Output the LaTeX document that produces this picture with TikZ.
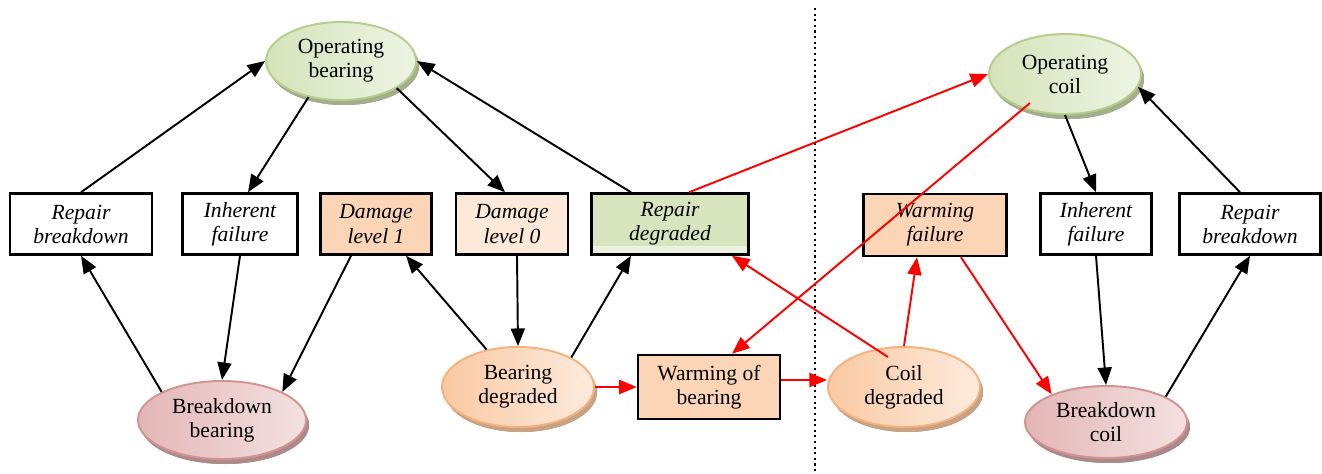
\documentclass[tikz,border=0pt]{standalone}
\usepackage{fontspec}
\setmainfont{Liberation Serif}
\usetikzlibrary{shapes.geometric,arrows.meta,shadows}
\definecolor{okfill}{HTML}{D5E3BA}
\definecolor{okfillb}{HTML}{EEF4E4}
\definecolor{okline}{HTML}{B7CD8C}
\definecolor{okshadow}{HTML}{A3AE8C}
\definecolor{dgfill}{HTML}{FAC9A2}
\definecolor{dgfillb}{HTML}{FDEBDD}
\definecolor{dgline}{HTML}{F6B27E}
\definecolor{dgshadow}{HTML}{C9A281}
\definecolor{bkfill}{HTML}{E4B6B6}
\definecolor{bkfillb}{HTML}{F4E1E1}
\definecolor{bkline}{HTML}{D39391}
\definecolor{bkshadow}{HTML}{AC8A8A}
\definecolor{orbox}{HTML}{FBD5B5}
\definecolor{pebox}{HTML}{FDE9D9}
\definecolor{grbox}{HTML}{D7E4BD}
\definecolor{grband}{HTML}{EBF1DE}
\begin{document}
\begin{tikzpicture}[font=\fontsize{12.3}{13.7}\selectfont,
        state/.style = {ellipse, align=center, inner sep=0pt, line width=1.1pt},
        ok/.style = {state, draw=okline, left color=okfill, right color=okfillb,
            drop shadow={left color=okshadow, right color=okshadow, opacity=1, shadow xshift=0.06cm, shadow yshift=-0.1cm}},
        dg/.style = {state, draw=dgline, left color=dgfill, right color=dgfillb,
            drop shadow={left color=dgshadow, right color=dgshadow, opacity=1, shadow xshift=0.06cm, shadow yshift=-0.1cm}},
        bk/.style = {state, draw=bkline, left color=bkfill, right color=bkfillb,
            drop shadow={left color=bkshadow, right color=bkshadow, opacity=1, shadow xshift=0.06cm, shadow yshift=-0.1cm}},
        box/.style = {draw, rectangle, align=center, fill=white, line width=1.4pt, minimum height=1.22cm, inner sep=0pt,
            font=\fontsize{12.3}{13.7}\selectfont\itshape},
        arr/.style = {line width=1.1pt, -{Triangle[length=10pt,width=8pt]}},
        redarr/.style = {arr, red}]
        \useasboundingbox (0,0) rectangle (26.44,9.46);
        \node[ok, minimum width=3cm, minimum height=1.56cm] (opB) at (6.82,8.24) {Operating\\bearing};
        \node[ok, minimum width=3.04cm, minimum height=1.6cm] (opC) at (21.3,7.98) {Operating\\coil};
        \node[box, minimum width=2.84cm] (rbL) at (1.62,4.98) {Repair\\breakdown};
        \node[box, minimum width=2.3cm] (ifL) at (4.8,4.98) {Inherent\\failure};
        \node[box, minimum width=2.22cm, fill=orbox] (dl1) at (7.52,4.98) {Damage\\level 1};
        \node[box, minimum width=2.24cm, fill=pebox] (dl0) at (10.24,4.98) {Damage\\level 0};
        \node[box, minimum width=3.14cm, fill=grbox,
            path picture={\fill[grband] (path picture bounding box.south west) rectangle ([yshift=0.18cm]path picture bounding box.south east);}]
            (rdg) at (13.4,4.98) {Repair\\degraded};
        \node[box, minimum width=2.86cm, minimum height=1.24cm, fill=orbox] (wfl) at (18.7,4.96) {Warming\\failure};
        \node[box, minimum width=2.22cm] (ifR) at (21.92,4.98) {Inherent\\failure};
        \node[box, minimum width=2.82cm] (rbR) at (25,4.98) {Repair\\breakdown};
        \node[bk, minimum width=3.36cm, minimum height=1.56cm] (bkB) at (4.44,1.06) {Breakdown\\bearing};
        \node[dg, minimum width=3.04cm, minimum height=1.6cm] (bdg) at (10.36,1.72) {Bearing\\degraded};
        \node[box, minimum width=2.84cm, minimum height=1.28cm, fill=orbox, font=\fontsize{12.3}{13.7}\selectfont] (wob) at (14.18,1.72) {Warming of\\bearing};
        \node[dg, minimum width=3.04cm, minimum height=1.6cm] (cdg) at (18.08,1.72) {Coil\\degraded};
        \node[bk, minimum width=3.24cm, minimum height=1.44cm] (bkC) at (22.12,1.02) {Breakdown\\coil};
        \coordinate (sepT) at (16.3,9.3);
        \coordinate (sepB) at (16.3,0);
        \draw[dotted, line width=1.2pt] (sepT) -- (sepB);
        \draw[arr] (rbL.north) -- (opB.west);
        \draw[arr] (opB.228) -- ([xshift=0.16cm]ifL.north);
        \draw[arr] (ifL.south) -- (bkB.north);
        \draw[arr] ([xshift=-0.5cm]dl1.south) -- (bkB.25);
        \draw[arr] (bkB.155) -- (rbL.south);
        \draw[arr] (opB.334) -- ([xshift=-0.14cm]dl0.north);
        \draw[arr] ([xshift=-0.78cm]rdg.north) -- (opB.east);
        \draw[arr] ([xshift=0.1cm]dl0.south) -- (bdg.north);
        \draw[arr] (bdg.130) -- ([xshift=0.6cm]dl1.south);
        \draw[arr] (bdg.29) -- ([xshift=-0.78cm]rdg.south);
        \draw[arr] (opC.south) -- (ifR.north);
        \draw[arr] (ifR.south) -- (bkC.north);
        \draw[arr] (bkC.23) -- (rbR.south);
        \draw[arr] ([xshift=-0.2cm]rbR.north) -- (opC.350);
        \draw[redarr] ([xshift=0.38cm]rdg.north) -- (opC.west);
        \draw[redarr] ([shift={(-0.7,-0.58)}]opC.center) -- ([xshift=0.46cm]wob.north);
        \draw[redarr] (bdg.east) -- (wob.west);
        \draw[redarr] ([yshift=0.14cm]wob.east) -- ([yshift=0.14cm]cdg.west);
        \draw[redarr] ([shift={(-0.32,0.6)}]cdg.center) -- ([xshift=1.24cm]rdg.south);
        \draw[redarr] (cdg.north) -- ([xshift=-0.36cm]wfl.south);
        \draw[redarr] ([xshift=0.52cm]wfl.south) -- (bkC.153);
    \end{tikzpicture}
\end{document}
